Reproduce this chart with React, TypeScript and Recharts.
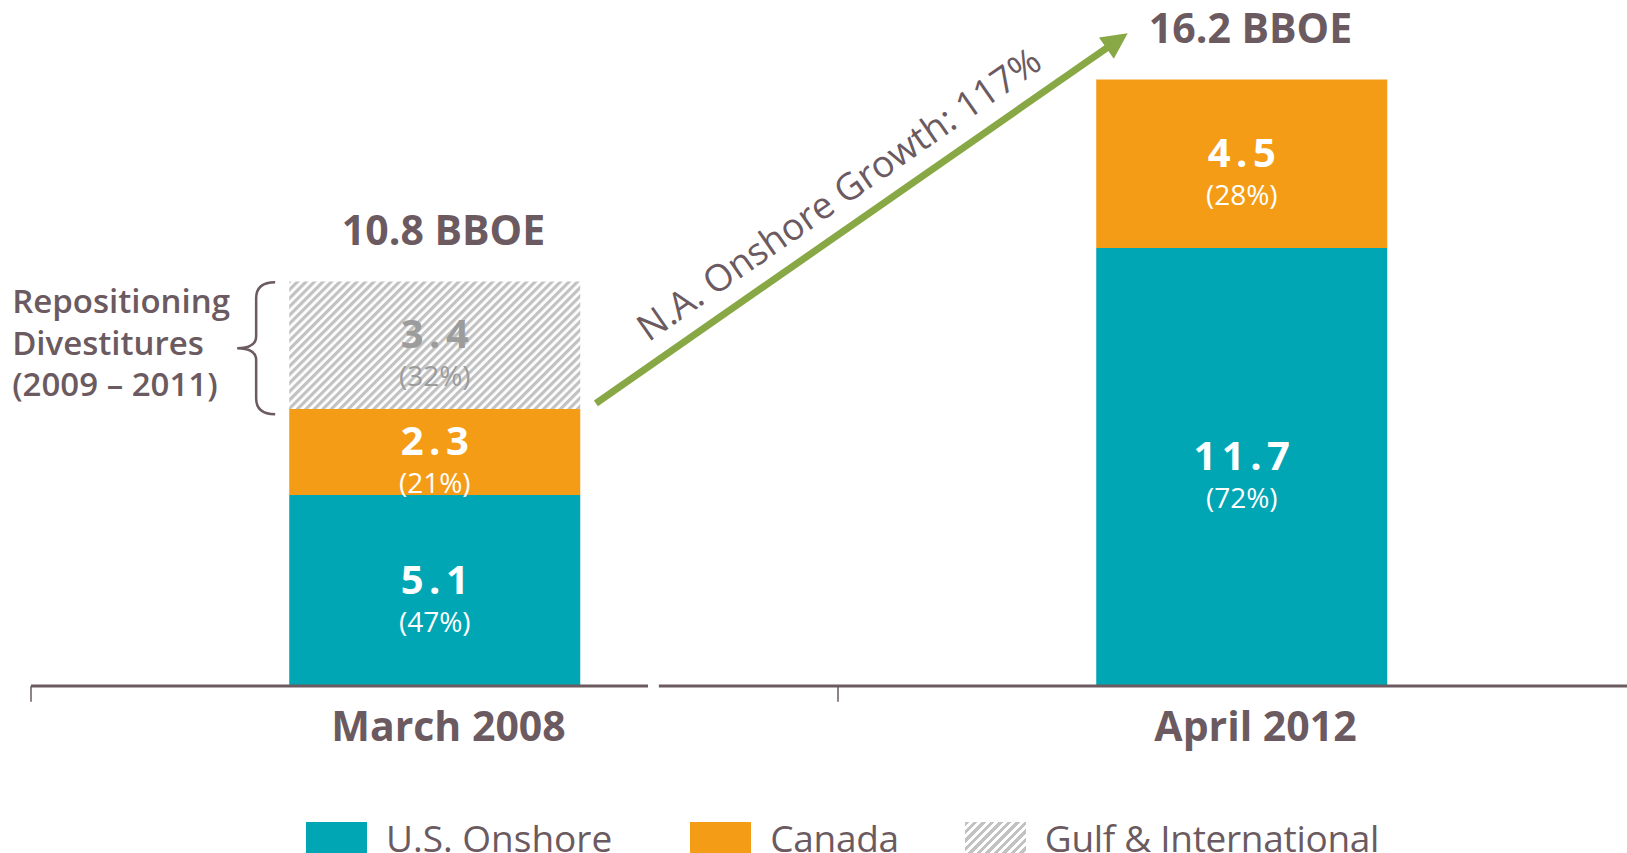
import React from 'react';
import { BarChart, Bar, XAxis, YAxis, LabelList, ReferenceLine, ReferenceDot, Legend } from 'recharts';

// ---------- data ----------
const categories = ['March 2008', 'April 2012'];
const usOnshore = [5.1, 11.7];
const canada = [2.3, 4.5];
const gulfIntl = [3.4, 0];
const usShare = [47, 72];
const canadaShare = [21, 28];
const gulfShare = [32, 0];
const totals = [10.8, 16.2];
const seriesNames = ['U.S. Onshore', 'Canada', 'Gulf & International'];
const growthLabel = 'N.A. Onshore Growth: 117%';
const bracketLines = ['Repositioning', 'Divestitures', '(2009 – 2011)'];

// annotation anchors (fraction of plot width on the hidden position axis / value axis units)
const arrowStart = { x: 0.35, y: 7.55 };
const arrowEnd = { x: 0.6795, y: 17.43 };
const bracketX = 0.1395;
const bracketRange = [7.26, 10.78];
const categoryEdges = [0, 0.5];
const axisGap = [0.3823, 0.389];

const data = categories.map((c, i) => ({ name: c, us: usOnshore[i], canada: canada[i], gulf: gulfIntl[i] }));

// ---------- styles ----------
const FONT = "'Open Sans', 'Noto Sans', sans-serif";
const TEAL = '#00a6b4';
const ORANGE = '#f49c16';
const GREEN = '#87a844';
const TEXT = '#6b5a5f';
const HATCH = '#c2c2c2';
const GRAYTXT = '#9c9c9c';

const CategoryTick = (props: any) => {
  const { x, y, payload } = props;
  return (
    <text x={x + 14} y={y + 55} textAnchor="middle" fill={TEXT} fontFamily={FONT} fontSize={41} fontWeight={700}>
      {payload.value}
    </text>
  );
};

const LS = 5.5;
const makeSegmentLabel = (values: number[], shares: number[], color: string) => (props: any) => {
  const { x, y, width, height, value } = props;
  if (!value) return null;
  const idx = props.index !== undefined ? props.index : values.indexOf(value);
  const cx = Number(x) + Number(width) / 2;
  const cy = Number(y) + Number(height) / 2;
  return (
    <g>
      <text x={cx + LS / 2} y={cy + 3} textAnchor="middle" fill={color} fontFamily={FONT} fontSize={40} fontWeight={700} letterSpacing={LS}>
        {Number(value).toFixed(1)}
      </text>
      <text x={cx} y={cy + 41} textAnchor="middle" fill={color} fontFamily={FONT} fontSize={28}>
        ({shares[idx]}%)
      </text>
    </g>
  );
};

const makeTotalLabel = (text: string) => (props: any) => {
  const vb = props.viewBox || {};
  const cx = vb.x + (vb.width || 0) / 2;
  const cy = vb.y + (vb.height || 0) / 2;
  return (
    <text x={cx + 9} y={cy - 36.5} textAnchor="middle" fill={TEXT} fontFamily={FONT} fontSize={41} fontWeight={700}>
      {text}
    </text>
  );
};

const GrowthArrow = (p: any) => {
  const { x1, y1, x2, y2 } = p;
  const dx = x2 - x1;
  const dy = y2 - y1;
  const len = Math.hypot(dx, dy);
  const ux = dx / len;
  const uy = dy / len;
  const head = 26;
  const hw = 13;
  const bx = x2 - ux * head;
  const by = y2 - uy * head;
  const nx = -uy;
  const ny = ux;
  const angle = (Math.atan2(dy, dx) * 180) / Math.PI;
  const mx = (x1 + x2) / 2 + uy * 20 + ux * -5;
  const my = (y1 + y2) / 2 - ux * 20 + uy * -5;
  return (
    <g>
      <line x1={x1} y1={y1} x2={bx + ux * 2} y2={by + uy * 2} stroke={GREEN} strokeWidth={7} />
      <polygon points={`${x2},${y2} ${bx + nx * hw},${by + ny * hw} ${bx - nx * hw},${by - ny * hw}`} fill={GREEN} />
      <text x={mx} y={my} transform={`rotate(${angle} ${mx} ${my})`} textAnchor="middle" fill={TEXT} fontFamily={FONT} fontSize={37} fontWeight={500}>
        {growthLabel}
      </text>
    </g>
  );
};

const Bracket = (p: any) => {
  const { x1, y1, y2 } = p;
  const x = x1;
  const top = Math.min(y1, y2);
  const bot = Math.max(y1, y2);
  const mid = (top + bot) / 2;
  const w = 19;
  const d = `M ${x + w} ${top} Q ${x} ${top} ${x} ${top + 16} L ${x} ${mid - 12} Q ${x} ${mid} ${x - w} ${mid} Q ${x} ${mid} ${x} ${mid + 12} L ${x} ${bot - 16} Q ${x} ${bot} ${x + w} ${bot}`;
  return (
    <g>
      <path d={d} fill="none" stroke={TEXT} strokeWidth={2.5} />
      {bracketLines.map((t, i) => (
        <text key={t} x={x - 244} y={top + 31 + i * 41.5} fill={TEXT} fontFamily={FONT} fontSize={33} fontWeight={600}>
          {t}
        </text>
      ))}
    </g>
  );
};

const swatches = [TEAL, ORANGE, `repeating-linear-gradient(135deg, ${HATCH} 0 3px, #fff 3px 6px)`];

const LegendContent = () => (
  <div style={{ display: 'flex', alignItems: 'flex-start', fontFamily: FONT, fontSize: 37, color: TEXT }}>
    {seriesNames.map((n, i) => (
      <div key={n} style={{ display: 'flex', alignItems: 'flex-start', marginRight: i === 0 ? 78 : 66 }}>
        <div style={{ width: 61, height: 31, background: swatches[i], marginRight: 19, marginTop: 2 }} />
        <span style={{ lineHeight: '36px', whiteSpace: 'nowrap', letterSpacing: i === 0 ? 0 : -0.3 }}>{n}</span>
      </div>
    ))}
  </div>
);

export default function App() {
  return (
    <div style={{ position: 'absolute', left: 0, top: 0, width: 1627, height: 853, overflow: 'hidden', background: '#fff' }}>
      <BarChart width={1645} height={853} data={data} margin={{ top: 12, right: 0, bottom: 87, left: 31 }} barCategoryGap="32%">
        <defs>
          <pattern id="hatch" patternUnits="userSpaceOnUse" width="6" height="6" patternTransform="rotate(45)">
            <rect width="6" height="6" fill="#fff" />
            <rect width="3.2" height="6" fill={HATCH} />
          </pattern>
        </defs>
        <XAxis dataKey="name" height={80} axisLine={false} tickLine={false} tickSize={0} tickMargin={0} tick={CategoryTick} interval={0} />
        <XAxis xAxisId="pos" type="number" domain={[0, 1]} hide allowDataOverflow />
        <YAxis hide domain={[0, 18]} allowDataOverflow />
        <Bar dataKey="us" stackId="a" fill={TEAL} isAnimationActive={false}>
          <LabelList dataKey="us" content={makeSegmentLabel(usOnshore, usShare, '#fff')} />
        </Bar>
        <Bar dataKey="canada" stackId="a" fill={ORANGE} isAnimationActive={false}>
          <LabelList dataKey="canada" content={makeSegmentLabel(canada, canadaShare, '#fff')} />
        </Bar>
        <Bar dataKey="gulf" stackId="a" fill="url(#hatch)" isAnimationActive={false}>
          <LabelList dataKey="gulf" content={makeSegmentLabel(gulfIntl, gulfShare, GRAYTXT)} />
        </Bar>
        {categories.map((c, i) => (
          <ReferenceDot key={c} x={c} y={totals[i]} r={1} fill="none" stroke="none" label={{ content: makeTotalLabel(`${totals[i]} BBOE`) }} />
        ))}
        <ReferenceLine xAxisId="pos" ifOverflow="visible" segment={[{ x: 0, y: 0 }, { x: axisGap[0], y: 0 }]} stroke={TEXT} strokeWidth={3} />
        <ReferenceLine xAxisId="pos" ifOverflow="visible" segment={[{ x: axisGap[1], y: 0 }, { x: 1, y: 0 }]} stroke={TEXT} strokeWidth={3} />
        {categoryEdges.map((e) => (
          <ReferenceLine key={e} xAxisId="pos" ifOverflow="visible" segment={[{ x: e, y: 0 }, { x: e, y: -0.42 }]} stroke={TEXT} strokeWidth={1.5} />
        ))}
        <ReferenceLine xAxisId="pos" ifOverflow="visible" segment={[arrowStart, arrowEnd]} shape={GrowthArrow} />
        <ReferenceLine xAxisId="pos" ifOverflow="visible" segment={[{ x: bracketX, y: bracketRange[0] }, { x: bracketX, y: bracketRange[1] }]} shape={Bracket} />
        <Legend verticalAlign="middle" layout="horizontal" content={LegendContent} wrapperStyle={{ top: 820, left: 306, width: 1300, height: 33 }} />
      </BarChart>
    </div>
  );
}
